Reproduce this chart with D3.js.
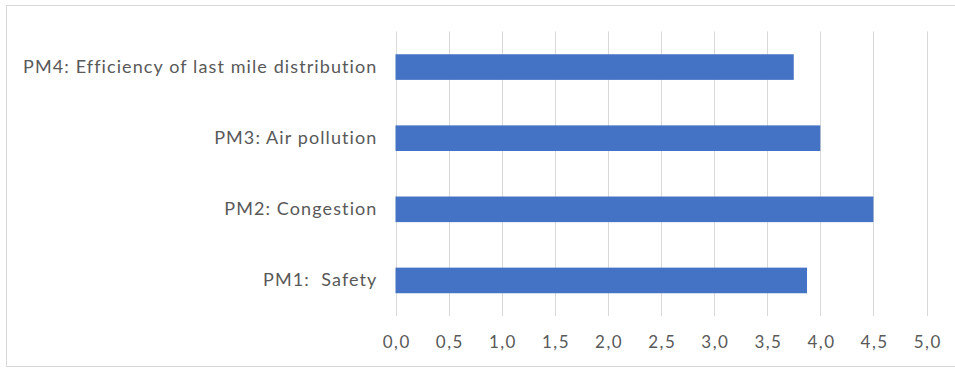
<!DOCTYPE html>
<html>
<head>
<meta charset="utf-8">
<script src="https://cdn.jsdelivr.net/npm/d3@7"></script>
<style>
  html, body { margin: 0; padding: 0; background: #fff; }
  svg { display: block; }
</style>
</head>
<body>
<svg id="chart" width="955" height="372"></svg>
<script>
// Performance measures (bottom to top in the chart) and their mean scores
const categories = ["PM1:  Safety", "PM2: Congestion", "PM3: Air pollution", "PM4: Efficiency of last mile distribution"];
const values = [3.875, 4.5, 4.0, 3.75];
const tickValues = [0, 0.5, 1, 1.5, 2, 2.5, 3, 3.5, 4, 4.5, 5];

const svg = d3.select("#chart");
const W = 955, H = 372;
const margin = { left: 395.5, right: 28.5, top: 31.5, bottom: 56 };
const font = "Lato, 'Open Sans', sans-serif";
const textColor = "#595959";

// Chart area frame (runs off the right edge)
svg.append("rect")
  .attr("x", 6.5).attr("y", 5.5)
  .attr("width", W + 10).attr("height", H - 11)
  .attr("fill", "#fff").attr("stroke", "#d9d9d9").attr("stroke-width", 1);

const x = d3.scaleLinear().domain([0, 5]).range([margin.left, W - margin.right]);
const y = d3.scaleBand()
  .domain(categories.slice().reverse())
  .range([margin.top, H - margin.bottom])
  .paddingInner(0.64).paddingOuter(0.32);

// Vertical gridlines
svg.append("g")
  .selectAll("line")
  .data(tickValues)
  .join("line")
  .attr("x1", d => Math.round(x(d)) + 0.5)
  .attr("x2", d => Math.round(x(d)) + 0.5)
  .attr("y1", margin.top)
  .attr("y2", H - margin.bottom)
  .attr("stroke", "#d9d9d9")
  .attr("stroke-width", 1);

// Bars
svg.append("g")
  .selectAll("rect")
  .data(categories)
  .join("rect")
  .attr("x", x(0))
  .attr("y", d => y(d))
  .attr("width", (d, i) => x(values[i]) - x(0))
  .attr("height", y.bandwidth())
  .attr("fill", "#4472c4");

// Bottom axis labels (comma decimal separator)
const fmt = d => d3.format(".1f")(d).replace(".", ",");
const xAxis = d3.axisBottom(x).tickValues(tickValues).tickFormat(fmt).tickSize(0).tickPadding(0);
const gx = svg.append("g")
  .attr("transform", `translate(0, ${H - margin.bottom + 20})`)
  .call(xAxis);
gx.select(".domain").remove();
gx.selectAll("text")
  .attr("fill", textColor)
  .attr("font-family", font)
  .attr("font-size", 17)
  .attr("letter-spacing", 1.5)
  .attr("dx", 0.75)
  .attr("dy", "0.32em")
  .attr("y", 7);

// Left category labels
const yAxis = d3.axisLeft(y).tickSize(0).tickPadding(18);
const gy = svg.append("g")
  .attr("transform", `translate(${margin.left}, 0)`)
  .call(yAxis);
gy.select(".domain").remove();
gy.selectAll("text")
  .attr("fill", textColor)
  .attr("font-family", font)
  .attr("font-size", 18)
  .attr("letter-spacing", 1.1)
  .style("white-space", "pre")
  .attr("xml:space", "preserve");
</script>
</body>
</html>
